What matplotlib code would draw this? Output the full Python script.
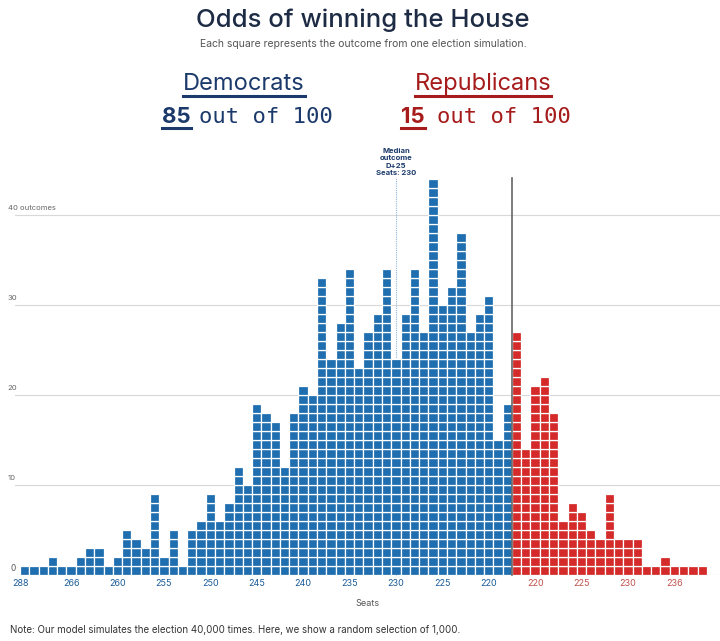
import matplotlib
matplotlib.use("Agg")
import matplotlib.pyplot as plt
from matplotlib.lines import Line2D

dem_counts = [1,1,1,2,1,1,2,3,3,1,2,5,4,3,9,2,5,1,5,6,9,6,8,12,10,
              19,18,17,12,18,21,20,33,24,28,34,23,27,29,34,24,29,34,27,44,30,32,38,27,29,31,15,19]
rep_counts = [27,14,21,22,18,6,8,7,5,4,9,4,4,4,1,1,2,1,1,1,1]
tick_pos = [-0.5,5,10,15,20,25,30,35,40,45,50,55,60,65,70]
tick_labels = ["288","266","260","255","250","245","240","235","230","225","220","220","225","230","236"]
median_col = 40

BLUE = "#1f6eb0"; RED = "#d42a2a"; NAVY = "#1b3a6b"; DRED = "#a61b1b"

W, H = 720, 641
fig = plt.figure(figsize=(W/100, H/100), dpi=100)
ax = fig.add_axes([15/W, 66/H, 705/W, 397/H])
x0 = (15-24.7)/9.28; x1 = (720-24.7)/9.28
ax.set_xlim(x0, x1); ax.set_ylim(0, 397/9.0)
for s in ax.spines.values(): s.set_visible(False)
ax.set_yticks([])

counts = dem_counts + rep_counts
nd = len(dem_counts)
for i, h in enumerate(counts):
    c = BLUE if i < nd else RED
    ax.bar([i]*h, [1]*h, bottom=list(range(h)), width=1.0, color=c,
           edgecolor="white", linewidth=0.9, zorder=3)

for g in [10, 20, 30, 40]:
    ax.axhline(g, color="#d8d8d8", lw=0.8, zorder=1)
    ax.text(x0 - 0.8, g + 0.4, "40 outcomes" if g == 40 else str(g), fontsize=5.5,
            color="#666", ha="left", va="bottom", family="Inter")
ax.axhline(0, color="#d8d8d8", lw=0.8, zorder=1)
ax.text(x0 + 0.05, 0.2, "0", fontsize=6, color="#555", ha="right", va="bottom", family="Inter")

ax.plot([median_col, median_col], [0, 44.1], color="#8fb6d9", lw=0.8, ls=(0, (1, 1)), zorder=2, clip_on=False)
ax.plot([nd-0.5, nd-0.5], [0, 44.1], color="#666", lw=1.2, zorder=4, clip_on=False)
ax.text(median_col, 44.3, "Median\noutcome\nD+25\nSeats: 230", ha="center", va="bottom",
        fontsize=5.5, color=NAVY, fontweight="bold", family="Inter", linespacing=1.3, clip_on=False)

ax.set_xticks(tick_pos)
ax.set_xticklabels(tick_labels, fontsize=6.5, family="Inter")
for i, t in enumerate(ax.get_xticklabels()):
    t.set_color("#1b5c99" if i < 11 else "#c0504d")
ax.tick_params(axis="x", length=0, pad=3)
ax.set_xlabel("Seats", fontsize=6.5, color="#555", family="Inter", labelpad=8)

fig.text(363/W, 1-20/H, "Odds of winning the House", ha="center", va="center",
         fontsize=18.5, color="#1d2c44", family="Inter", fontweight="medium")
fig.text(363/W, 1-44/H, "Each square represents the outcome from one election simulation.",
         ha="center", va="center", fontsize=7.5, color="#555", family="Inter")

texts = []
texts.append(fig.text(244/W, 1-84/H, "Democrats", ha="center", va="center", fontsize=17, color=NAVY, family="Inter"))
texts.append(fig.text(483/W, 1-84/H, "Republicans", ha="center", va="center", fontsize=17, color=DRED, family="Inter"))
t85 = fig.text(162/W, 1-117/H, "85", ha="left", va="center", fontsize=16, color=NAVY, fontweight="bold", family="Inter")
fig.text(199/W, 1-117/H, "out of 100", ha="left", va="center", fontsize=16, color=NAVY, family="DejaVu Sans Mono")
t15 = fig.text(401/W, 1-117/H, "15", ha="left", va="center", fontsize=16, color=DRED, fontweight="bold", family="Inter")
fig.text(437/W, 1-117/H, "out of 100", ha="left", va="center", fontsize=16, color=DRED, family="DejaVu Sans Mono")
texts += [t85, t15]

fig.text(10/W, 1-630/H, "Note: Our model simulates the election 40,000 times. Here, we show a random selection of 1,000.",
         ha="left", va="center", fontsize=7, color="#333", family="Inter")

fig.canvas.draw()
r = fig.canvas.get_renderer()
for t in texts:
    bb = t.get_window_extent(r)
    y = bb.y0 - 1
    fig.add_artist(Line2D([bb.x0/W, bb.x1/W], [y/H, y/H], color=t.get_color(), lw=2.2))

fig.savefig("out.png", dpi=100)
